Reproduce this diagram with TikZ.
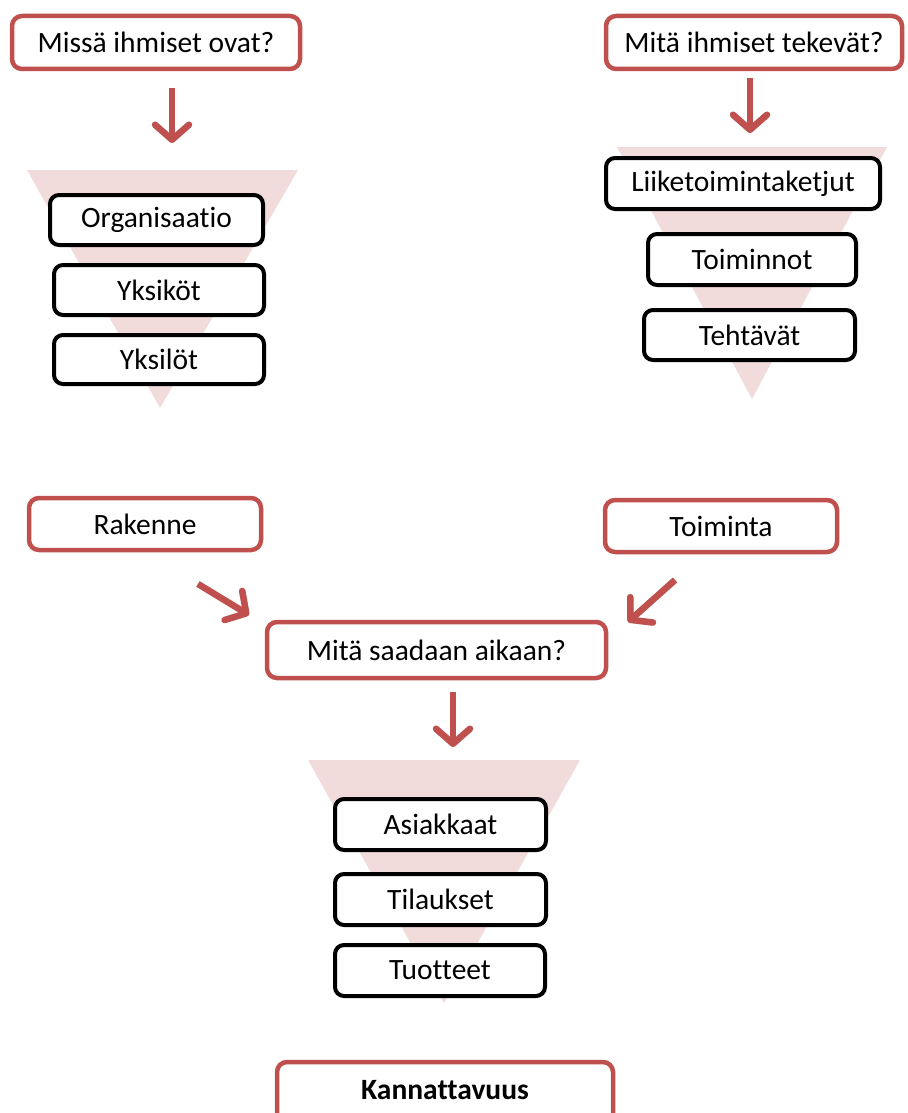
\documentclass[tikz,border=0pt]{standalone}
\usepackage{fontspec}
\setmainfont{Carlito}[Ligatures={NoCommon,NoRequired}]
\usetikzlibrary{arrows.meta}
\definecolor{accred}{RGB}{192,80,77}
\definecolor{funnel}{RGB}{242,220,219}
\begin{document}
\begin{tikzpicture}[x=1pt,y=-1pt,
  boxfont/.style={font=\fontsize{29.5}{33}\selectfont},
  redbox/.style={draw=accred,line width=4.5pt,rounded corners=10pt,fill=white,
    boxfont,inner sep=0pt},
  blackbox/.style={draw=black,line width=4pt,rounded corners=9pt,fill=white,
    boxfont,inner sep=0pt},
  redarrow/.style={draw=accred,line width=6.5pt,-{Straight Barb[length=15pt,width=34pt,round]}},
  shadowarrow/.style={draw=black!18,line width=6.5pt,-{Straight Barb[length=15pt,width=34pt,round]},
    shift={(2pt,-3pt)}},
  funnelshape/.style={fill=funnel,draw=none}]
\useasboundingbox (0,0) rectangle (907,1113);
% funnels
\fill[funnelshape] (27,170) -- (298,170) -- (160,408) -- cycle;
\fill[funnelshape] (617,147) -- (887,147) -- (752,399) -- cycle;
\fill[funnelshape] (308,760) -- (580,760) -- (444,1003) -- cycle;
% top question boxes
\node[redbox,minimum width=288pt,minimum height=53pt] (q1) at (156,42.5) {Missä ihmiset ovat?};
\node[redbox,minimum width=296pt,minimum height=53pt] (q2) at (754,42.5) {Mitä ihmiset tekevät?};
% left funnel boxes
\node[blackbox,minimum width=213pt,minimum height=50pt] (org) at (156.5,220) {Organisaatio};
\node[blackbox,minimum width=210pt,minimum height=50pt] (yks) at (159,290) {Yksiköt};
\node[blackbox,minimum width=210pt,minimum height=49pt] (ykl) at (159,359.5) {Yksilöt};
% right funnel boxes
\node[blackbox,minimum width=274pt,minimum height=51pt] (lii) at (743,183.5) {Liiketoimintaketjut};
\node[blackbox,minimum width=208pt,minimum height=51pt] (toim) at (752,259.5) {Toiminnot};
\node[blackbox,minimum width=211pt,minimum height=50pt] (teh) at (749.5,335) {Tehtävät};
% middle
\node[redbox,minimum width=232pt,minimum height=52pt] (rak) at (145,524) {Rakenne};
\node[redbox,minimum width=232pt,minimum height=52pt] (toimi) at (721,526) {Toiminta};
\node[redbox,minimum width=339pt,minimum height=56pt] (mita) at (436.5,650) {Mitä saadaan aikaan?};
% bottom funnel boxes
\node[blackbox,minimum width=211pt,minimum height=51pt] (asi) at (440.5,824.5) {Asiakkaat};
\node[blackbox,minimum width=211pt,minimum height=51pt] (til) at (440.5,899.5) {Tilaukset};
\node[blackbox,minimum width=210pt,minimum height=51pt] (tuo) at (440,970.5) {Tuotteet};
\node[redbox,minimum width=336pt,minimum height=66pt,text depth=10pt,
  font=\fontsize{29.5}{33}\selectfont\bfseries] (kan) at (445,1095) {Kannattavuus};
% arrows
\coordinate (a1s) at (172,88);  \coordinate (a1e) at (172,143);
\coordinate (a2s) at (750,78);  \coordinate (a2e) at (750,133);
\coordinate (a3s) at (198,584); \coordinate (a3e) at (249,615);
\coordinate (a4s) at (675,580); \coordinate (a4e) at (628,622);
\coordinate (a5s) at (453,692); \coordinate (a5e) at (453,747);
\foreach \s/\e in {a1s/a1e,a2s/a2e,a3s/a3e,a4s/a4e,a5s/a5e}{
  \draw[shadowarrow] (\s) -- (\e);
  \draw[redarrow] (\s) -- (\e);
}
\end{tikzpicture}
\end{document}
